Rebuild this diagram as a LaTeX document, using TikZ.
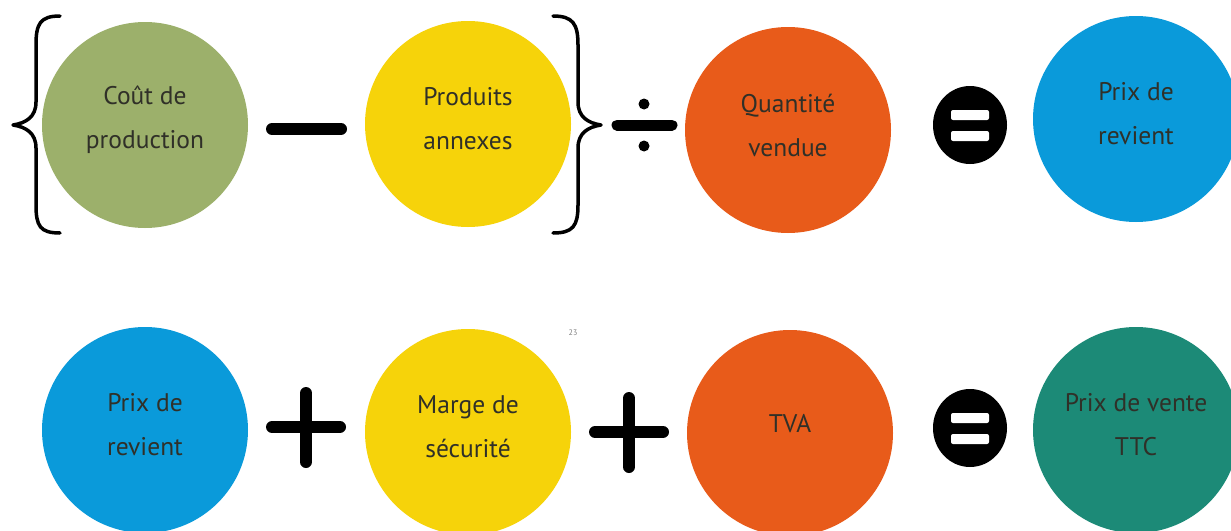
\documentclass[tikz,border=0pt]{standalone}
\usepackage{fontspec}
\setmainfont{PT Sans}
\definecolor{cgreen}{HTML}{9CB06B}
\definecolor{cyellow}{HTML}{F6D30A}
\definecolor{corange}{HTML}{E85B1A}
\definecolor{cblue}{HTML}{0A9ADA}
\definecolor{cteal}{HTML}{1C8A77}
\definecolor{ctext}{HTML}{303028}
\begin{document}
\begin{tikzpicture}[x=1pt,y=-1pt,
  disc/.style={circle,minimum size=206pt,inner sep=0pt},
  txt/.style={align=center,inner sep=0pt,font=\fontsize{25.5}{44}\selectfont,text=ctext,yshift=5pt},
  opline/.style={line width=12pt,line cap=round},
  brace/.style={line width=3.5pt,line cap=round,line join=round}]
\useasboundingbox (0,0) rectangle (1231,530);
\fill[white] (0,0) rectangle (1231,530);
\clip (0,0) rectangle (1231,530);
% top row
\node[disc,fill=cgreen,label={[txt]center:{Coût de\\production}}] (cout) at (145,125) {};
\node[disc,fill=cyellow,label={[txt]center:{Produits\\annexes}}] (prod) at (468,124) {};
\node[disc,fill=corange,label={[txt]center:{Quantité\\vendue}}] (qte) at (788,130) {};
\node[disc,fill=cblue,label={[txt]center:{Prix de\\revient}}] (pr1) at (1136,119) {};
% bottom row
\node[disc,fill=cblue,label={[txt]center:{Prix de\\revient}}] (pr2) at (145,430) {};
\node[disc,fill=cyellow,label={[txt]center:{Marge de\\sécurité}}] (marge) at (468,432) {};
\node[disc,fill=corange,label={[txt,yshift=4pt]center:{TVA}}] (tva) at (790,433) {};
\node[disc,fill=cteal,label={[txt]center:{Prix de vente\\TTC}}] (pvttc) at (1136,430) {};
% braces
\draw[brace] (60,16) .. controls (40,16) and (36,24) .. (36,45)
  -- (36,102) .. controls (36,117) and (26,123) .. (13,125)
  .. controls (26,127) and (36,133) .. (36,148)
  -- (36,205) .. controls (36,226) and (40,233) .. (60,233);
\draw[brace] (553,16) .. controls (573,16) and (578,24) .. (578,45)
  -- (578,102) .. controls (578,117) and (588,123) .. (601,125)
  .. controls (588,127) and (578,133) .. (578,148)
  -- (578,205) .. controls (578,226) and (573,233) .. (553,233);
% minus
\coordinate (m1) at (272,129); \coordinate (m2) at (341,129);
\draw[opline] (m1) -- (m2);
% division
\coordinate (d1) at (617,125); \coordinate (d2) at (672,125);
\draw[line width=11pt,line cap=round] (d1) -- (d2);
\fill (644,104) circle (5.5pt);
\fill (644,146) circle (5.5pt);
% equals top
\fill (970,125) ellipse [x radius=37pt,y radius=39pt];
\fill[white,rounded corners=2pt] (951,110) rectangle (989,120);
\fill[white,rounded corners=2pt] (951,131) rectangle (989,141);
% plus signs
\draw[opline] (272,427) -- (340,427);
\draw[opline] (306,393) -- (306,462);
\draw[opline] (595,432) -- (663,432);
\draw[opline] (629,398) -- (629,467);
% equals bottom
\fill (970,428) ellipse [x radius=37pt,y radius=39pt];
\fill[white,rounded corners=2pt] (951,413) rectangle (989,423);
\fill[white,rounded corners=2pt] (951,434) rectangle (989,444);
% page number
\node[text=gray,font=\fontsize{8}{8}\selectfont] (num) at (573,333) {23};
\end{tikzpicture}
\end{document}
